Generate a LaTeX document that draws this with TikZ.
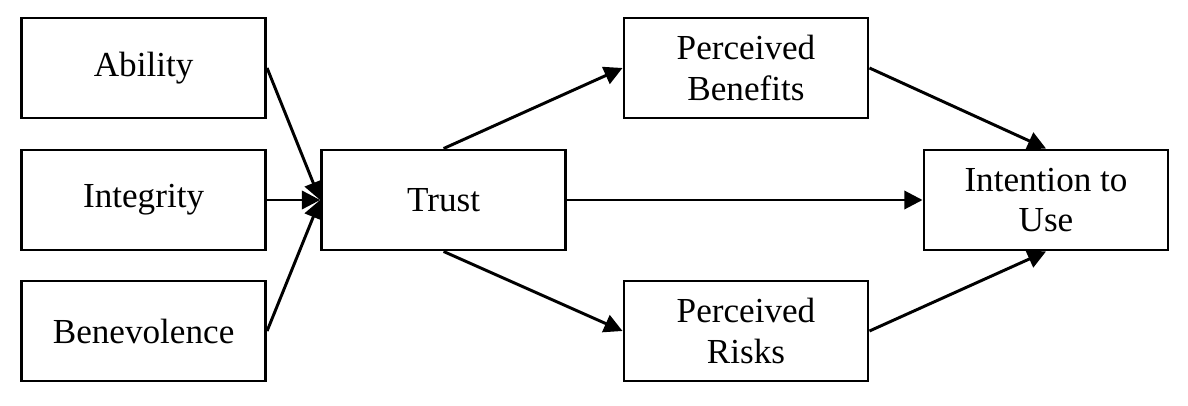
\documentclass[tikz,border=0pt]{standalone}
\usepackage{fontspec}
\setmainfont{Liberation Serif}
\usetikzlibrary{arrows.meta}
\begin{document}
\begin{tikzpicture}[
		box/.style={draw, line width=2.1pt, minimum width=6.1cm, minimum height=2.5cm, align=center, font=\fontsize{25}{28.5}\selectfont},
		link/.style={line width=2.1pt, -{Triangle[length=13pt,width=13pt]}}
	]
		\useasboundingbox (0,0) rectangle (29.7,10.125);
		% left column
		\node[box] (ability) at (3.59,8.425) {Ability};
		\node[box] (integrity) at (3.59,5.125) {Integrity};
		\node[box] (benevolence) at (3.59,1.85) {Benevolence};
		% middle
		\node[box] (trust) at (11.09,5.125) {Trust};
		\node[box] (benefits) at (18.65,8.425) {Perceived\\Benefits};
		\node[box] (risks) at (18.65,1.85) {Perceived\\Risks};
		% right
		\node[box] (intention) at (26.15,5.125) {Intention to\\Use};
		\draw[link] (ability.east) -- (trust.west);
		\draw[link] (integrity.east) -- (trust.west);
		\draw[link] (benevolence.east) -- (trust.west);
		\draw[link] (trust.north) -- (benefits.west);
		\draw[link] (trust.east) -- (intention.west);
		\draw[link] (trust.south) -- (risks.west);
		\draw[link] (benefits.east) -- (intention.north);
		\draw[link] (risks.east) -- (intention.south);
\end{tikzpicture}
\end{document}
